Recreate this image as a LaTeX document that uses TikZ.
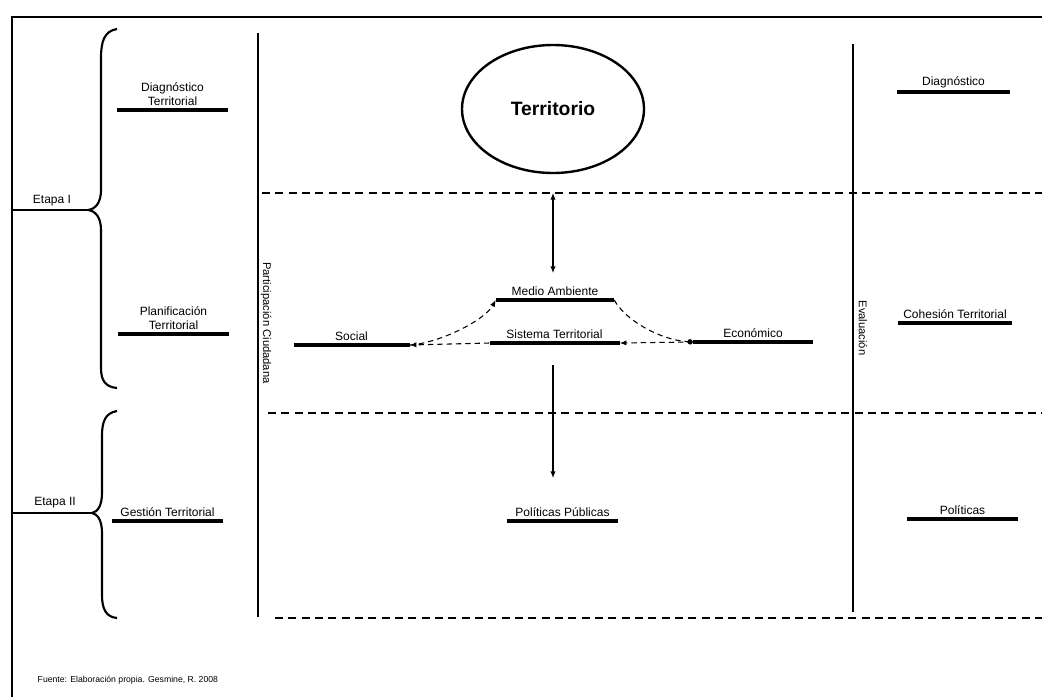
\documentclass[tikz,border=0pt]{standalone}
\usepackage{fontspec}
\setmainfont{Liberation Sans}
\usepackage{tikz}
\usetikzlibrary{
  positioning,
  shapes.geometric,
  arrows.meta
}
\tikzset{
  bar/.style={fill=black, inner sep=0pt, minimum height=2.4pt,
    minimum width=#1*0.75pt},
  lbl/.style={font=\fontsize{9}{10.5}\selectfont, inner sep=1pt, align=center},
  vlbl/.style={font=\fontsize{8.4}{10}\selectfont, rotate=-90, inner sep=0pt},
  sep/.style={line width=0.9pt, dash pattern=on 6pt off 4pt},
  axis/.style={line width=2.2pt},
  brace/.style={line width=1.6pt},
  link/.style={line width=0.8pt, dash pattern=on 4pt off 3pt},
  arr/.style={line width=0.8pt}
}

\begin{document}
\begin{tikzpicture}[x=0.75pt, y=-0.75pt, >={Latex[length=5pt, width=4pt]}]
\useasboundingbox (0,0) rectangle (1042,697);
% frame
\draw[line width=1.4pt] (1042,17) -- (12,17) -- (12,697);

% braces
\draw[brace] (117,29) .. controls (104,31) and (101,42) .. (101,58) -- (101,190)
  .. controls (101,202) and (96,209) .. (88,210)
  .. controls (96,211) and (101,218) .. (101,230) -- (101,368)
  .. controls (101,380) and (105,387) .. (117,388);
\draw[brace] (117,411) .. controls (105,413) and (102,422) .. (102,436) -- (102,493)
  .. controls (102,505) and (98,512) .. (92,513)
  .. controls (98,514) and (102,521) .. (102,533) -- (102,595)
  .. controls (102,609) and (106,617) .. (117,618);
\draw[brace] (12,210) -- (88,210);
\draw[brace] (12,513) -- (92,513);
\node[lbl] (et1) at (52,201) {Etapa I};
\node[lbl] (et2) at (55,503) {Etapa II};

% left column
\node[bar=111] (diag) at (172.5,110) {};
\node[lbl, above=0.5pt of diag] {Diagnóstico\\Territorial};
\node[bar=111] (plan) at (173.5,334) {};
\node[lbl, above=0.5pt of plan] {Planificación\\Territorial};
\node[bar=111] (gest) at (167.5,521) {};
\node[lbl, above=0.5pt of gest] {Gestión Territorial};

% vertical axes
\draw[axis] (258,33) -- (258,617);
\node[vlbl] (part) at (266,323) {Participación Ciudadana};
\draw[axis] (853,44) -- (853,612);
\node[vlbl] (eval) at (863,328) {Evaluación};

% separators
\draw[sep] (262,193) -- (1042,193);
\draw[sep] (268,413) -- (1042,413);
\draw[sep] (275,618) -- (1042,618);

% centre
\node[ellipse, draw, line width=1.8pt, minimum width=182*0.75pt,
  minimum height=128*0.75pt, font=\fontsize{14.5}{16}\selectfont\bfseries]
  (terr) at (553,109) {Territorio};
\coordinate (up1) at (553,193);
\coordinate (up2) at (553,273);
\draw[arr, <->] (up1) -- (up2);

\node[bar=118] (med) at (555,300) {};
\node[lbl, above=0.5pt of med] {Medio Ambiente};
\node[bar=130] (sis) at (554.5,343) {};
\node[lbl, above=0.5pt of sis] {Sistema Territorial};
\node[bar=116] (soc) at (351.5,345) {};
\node[lbl, above=0.5pt of soc] {Social};
\node[bar=120] (eco) at (753,342) {};
\node[lbl, above=0.5pt of eco] {Económico};

\draw[link, ->] (eco.west) -- (sis.east);
\draw[link, ->] (sis.west) -- (soc.east);
\draw[link, ->] (soc.east) .. controls (440,343) and (485,320) .. (med.west);
\draw[link, -{Circle[length=4pt]}] (med.east) .. controls (625,320) and (660,340) .. (eco.west);

\coordinate (dn1) at (553,365);
\coordinate (dn2) at (553,478);
\draw[arr, ->] (dn1) -- (dn2);
\node[bar=111] (pol) at (562.5,521) {};
\node[lbl, above=0.5pt of pol] {Políticas Públicas};

% right column
\node[bar=113] (rdiag) at (953.5,92) {};
\node[lbl, above=0.5pt of rdiag] {Diagnóstico};
\node[bar=114] (rcoh) at (955,323) {};
\node[lbl, above=0.5pt of rcoh] {Cohesión Territorial};
\node[bar=111] (rpol) at (962.5,519) {};
\node[lbl, above=0.5pt of rpol] {Políticas};

\node[anchor=west, font=\fontsize{6.5}{8}\selectfont] (src) at (33,680)
  {Fuente: Elaboración propia. Gesmine, R. 2008};
\end{tikzpicture}
\end{document}
